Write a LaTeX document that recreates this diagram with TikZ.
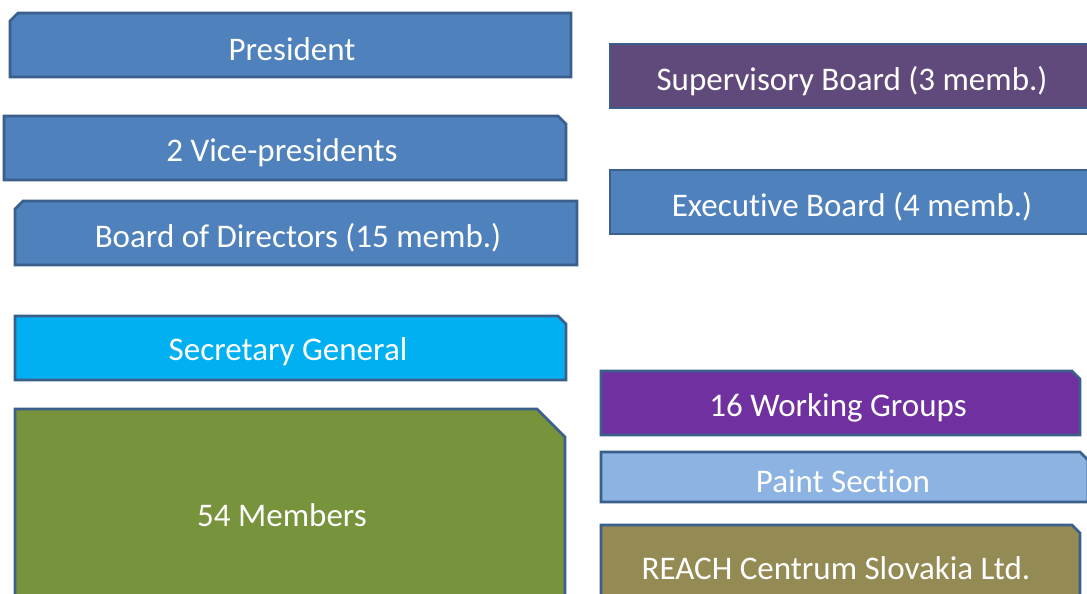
\documentclass[tikz,border=0pt]{standalone}
\usepackage{fontspec}
\setmainfont[Ligatures=NoCommon]{Carlito}
\definecolor{bblue}{HTML}{4F81BD}
\definecolor{bline}{HTML}{3A5F8B}
\definecolor{bpurple}{HTML}{604A7B}
\definecolor{bcyan}{HTML}{00B0F0}
\definecolor{bgreen}{HTML}{77933C}
\definecolor{bviolet}{HTML}{7030A0}
\definecolor{blight}{HTML}{8DB3E2}
\definecolor{bolive}{HTML}{948A54}
\tikzset{
  shapebox/.style={draw=bline, line width=2.8pt, line join=miter},
  label/.style={text=white, font=\fontsize{33}{38}\selectfont, inner sep=0pt}
}
\begin{document}
\begin{tikzpicture}[x=1pt,y=-1pt]
\useasboundingbox (0,0) rectangle (1087,594);
\fill[white] (0,0) rectangle (1087,594);
\clip (0,0) rectangle (1087,594);
% President (cut top-left)
\filldraw[shapebox, fill=bblue] (10,21) -- (18,13) -- (571,13) -- (571,77) -- (10,77) -- cycle;
\node[label] (pres) at (292,49) {President};
% Vice-presidents (cut top-right)
\filldraw[shapebox, fill=bblue] (4,116) -- (558,116) -- (566,124) -- (566,180) -- (4,180) -- cycle;
\node[label] (vice) at (282,153) {2 Vice-presidents};
% Board of Directors (cut top-left)
\filldraw[shapebox, fill=bblue] (15,209) -- (23,201) -- (577,201) -- (577,265) -- (15,265) -- cycle;
\node[label] (bod) at (298,238) {Board of Directors (15 memb.)};
% Secretary General (cut top-right)
\filldraw[shapebox, fill=bcyan] (15,316) -- (558,316) -- (566,324) -- (566,380) -- (15,380) -- cycle;
\node[label] (sec) at (288,352) {Secretary General};
% 54 Members (cut top-right)
\filldraw[shapebox, fill=bgreen] (15,409) -- (537,409) -- (565,437) -- (565,620) -- (15,620) -- cycle;
\node[label] (mem) at (282,515) {54 Members};
% Supervisory Board
\filldraw[shapebox, fill=bpurple] (610,44) -- (1094,44) -- (1094,108) -- (610,108) -- cycle;
\node[label] (sup) at (852,81) {Supervisory Board (3 memb.)};
% Executive Board
\filldraw[shapebox, fill=bblue] (610,170) -- (1094,170) -- (1094,234) -- (610,234) -- cycle;
\node[label] (exe) at (852,207) {Executive Board (4 memb.)};
% 16 Working Groups (cut top-right)
\filldraw[shapebox, fill=bviolet] (601,371) -- (1072,371) -- (1080,379) -- (1080,435) -- (601,435) -- cycle;
\node[label] (wg) at (838,408) {16 Working Groups};
% Paint Section (cut top-right)
\filldraw[shapebox, fill=blight] (601,452) -- (1080,452) -- (1088,460) -- (1088,502) -- (601,502) -- cycle;
\node[label] (paint) at (843,481) {Paint Section};
% REACH (cut top-right)
\filldraw[shapebox, fill=bolive] (601,525) -- (1072,525) -- (1080,533) -- (1080,620) -- (601,620) -- cycle;
\node[label] (reach) at (836,568) {REACH Centrum Slovakia Ltd.};
\end{tikzpicture}
\end{document}
